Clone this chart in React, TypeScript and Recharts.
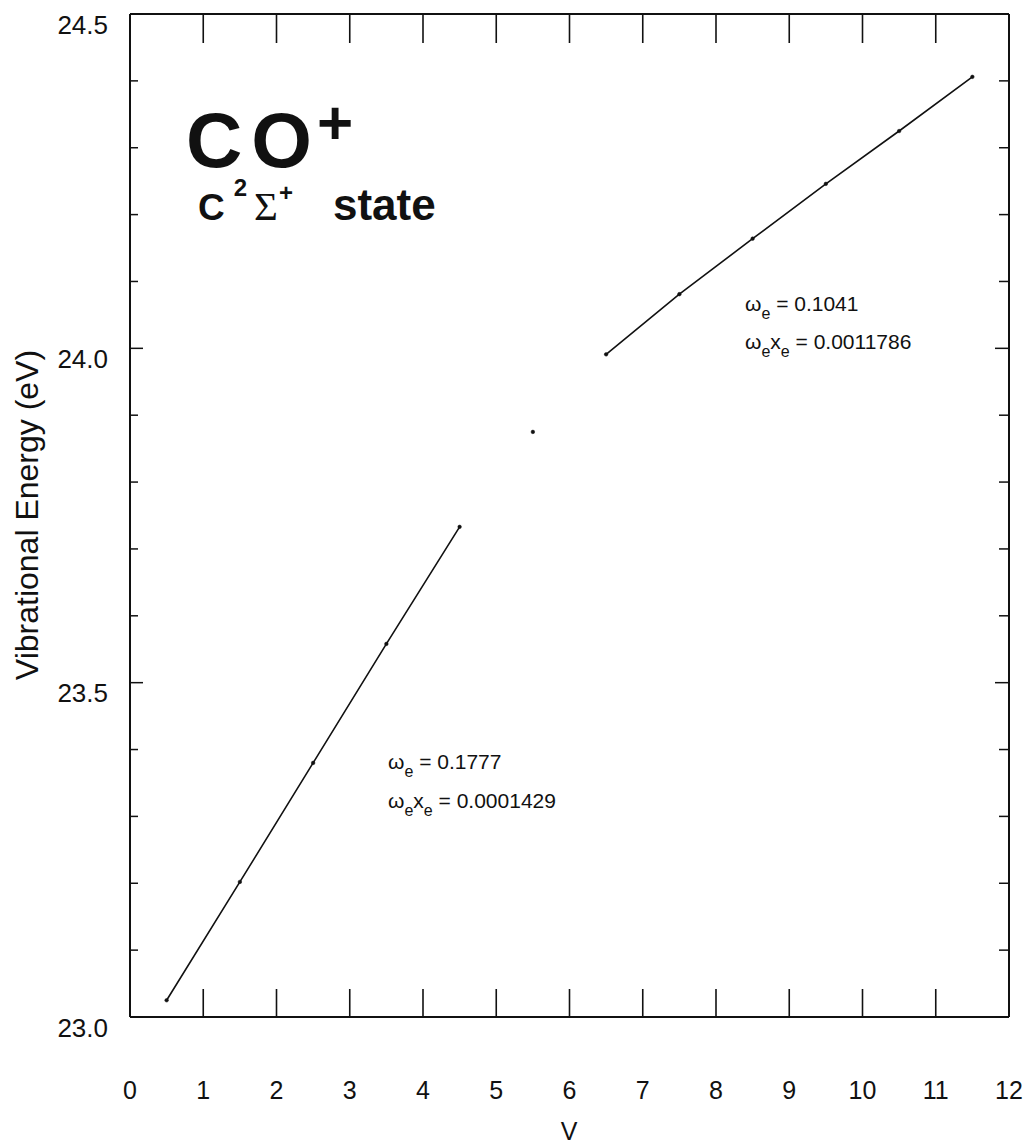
import React from "react";
import { ComposedChart, Line, XAxis, YAxis } from "recharts";

// v = 0.5 ... 4.5 (lower fit), a lone point at 5.5, and v = 6.5 ... 11.5 (upper fit)
const V_LOW = [0.5, 1.5, 2.5, 3.5, 4.5];
const E_LOW = [23.025, 23.202, 23.38, 23.558, 23.733];
const V_MID = [5.5];
const E_MID = [23.875];
const V_HIGH = [6.5, 7.5, 8.5, 9.5, 10.5, 11.5];
const E_HIGH = [23.991, 24.081, 24.164, 24.246, 24.325, 24.406];

const X_TICKS = [0, 1, 2, 3, 4, 5, 6, 7, 8, 9, 10, 11, 12];
const Y_TICKS = [
  23.0, 23.1, 23.2, 23.3, 23.4, 23.5, 23.6, 23.7,
  23.8, 23.9, 24.0, 24.1, 24.2, 24.3, 24.4, 24.5,
];
const Y_LABELS = ["23.0", "23.5", "24.0", "24.5"];

const lowData = V_LOW.map((v, i) => ({ v, e: E_LOW[i] }));
const midData = V_MID.map((v, i) => ({ v, e: E_MID[i] }));
const highData = V_HIGH.map((v, i) => ({ v, e: E_HIGH[i] }));

const FONT = '"Liberation Sans", Arial, Helvetica, sans-serif';
const SERIF = '"Liberation Serif", "Times New Roman", serif';
const INK = "#111";

function isMajor(value: number): boolean {
  return Math.abs(value * 2 - Math.round(value * 2)) < 1e-6;
}

function isInner(value: number): boolean {
  return value > 0 && value < 12;
}

function BottomTick({ x = 0, y = 0, payload }: any) {
  const v = Number(payload?.value);
  return (
    <g>
      {isInner(v) ? <line x1={x} y1={y} x2={x} y2={y - 28} stroke={INK} strokeWidth={1.6} /> : null}
      <text x={x} y={y + 82} textAnchor="middle" fontSize={25} fontFamily={FONT} fill={INK}>
        {v}
      </text>
    </g>
  );
}

function TopTick({ x = 0, y = 0, payload }: any) {
  const v = Number(payload?.value);
  if (!isInner(v)) return <g />;
  return <line x1={x} y1={y} x2={x} y2={y + 29} stroke={INK} strokeWidth={1.6} />;
}

function LeftTick({ x = 0, y = 0, payload }: any) {
  const v = Number(payload?.value);
  const major = isMajor(v);
  const label = Y_LABELS.find((l) => Math.abs(Number(l) - v) < 1e-6);
  return (
    <g>
      <line x1={x} y1={y} x2={x + (major ? 13 : 8)} y2={y} stroke={INK} strokeWidth={1.5} />
      {label ? (
        <text x={x - 22} y={y + 19.5} textAnchor="end" fontSize={26} fontFamily={FONT} fill={INK}>
          {label}
        </text>
      ) : null}
    </g>
  );
}

function RightTick({ x = 0, y = 0, payload }: any) {
  const v = Number(payload?.value);
  const major = isMajor(v);
  return <line x1={x} y1={y} x2={x - (major ? 14 : 10)} y2={y} stroke={INK} strokeWidth={1.5} />;
}

const dot = { r: 1.8, fill: INK, stroke: INK, strokeWidth: 0.5 };

export default function App() {
  const axisLine = { stroke: INK, strokeWidth: 2 };
  return (
    <div style={{ position: "absolute", left: 0, top: 0, width: 1024, height: 1144, background: "#fff" }}>
      <ComposedChart width={1024} height={1144} margin={{ top: 4, right: 5, bottom: 0, left: 0 }}>
        <XAxis
          xAxisId="bottom"
          dataKey="v"
          type="number"
          domain={[0, 12]}
          ticks={X_TICKS}
          interval={0}
          height={127}
          axisLine={axisLine}
          tickLine={false}
          tickSize={0}
          tickMargin={0}
          tick={<BottomTick />}
          allowDataOverflow
        />
        <XAxis
          xAxisId="top"
          dataKey="v"
          type="number"
          orientation="top"
          domain={[0, 12]}
          ticks={X_TICKS}
          interval={0}
          height={10}
          axisLine={axisLine}
          tickLine={false}
          tickSize={0}
          tickMargin={0}
          tick={<TopTick />}
          allowDataOverflow
        />
        <YAxis
          yAxisId="left"
          type="number"
          domain={[23, 24.5]}
          ticks={Y_TICKS}
          interval={0}
          width={130}
          axisLine={axisLine}
          tickLine={false}
          tickSize={0}
          tickMargin={0}
          tick={<LeftTick />}
          allowDataOverflow
        />
        <YAxis
          yAxisId="right"
          orientation="right"
          type="number"
          domain={[23, 24.5]}
          ticks={Y_TICKS}
          interval={0}
          width={10}
          axisLine={axisLine}
          tickLine={false}
          tickSize={0}
          tickMargin={0}
          tick={<RightTick />}
          allowDataOverflow
        />
        <Line
          xAxisId="bottom"
          yAxisId="left"
          data={lowData}
          dataKey="e"
          type="linear"
          stroke={INK}
          strokeWidth={1.6}
          dot={dot}
          activeDot={false}
          isAnimationActive={false}
        />
        <Line
          xAxisId="bottom"
          yAxisId="left"
          data={midData}
          dataKey="e"
          type="linear"
          stroke={INK}
          strokeWidth={1.6}
          dot={dot}
          activeDot={false}
          isAnimationActive={false}
        />
        <Line
          xAxisId="bottom"
          yAxisId="left"
          data={highData}
          dataKey="e"
          type="linear"
          stroke={INK}
          strokeWidth={1.6}
          dot={dot}
          activeDot={false}
          isAnimationActive={false}
        />
        {/* keeps the top / right frame axes attached to a series */}
        <Line
          xAxisId="top"
          yAxisId="right"
          data={highData}
          dataKey="e"
          stroke="none"
          dot={false}
          activeDot={false}
          isAnimationActive={false}
        />
      </ComposedChart>

      {/* labels and annotations drawn over the chart */}
      <svg
        width={1024}
        height={1144}
        style={{ position: "absolute", left: 0, top: 0, pointerEvents: "none" }}
        fontFamily={FONT}
        fill={INK}
      >
        <text transform="translate(38,515) rotate(-90)" textAnchor="middle" fontSize={32}>
          Vibrational Energy (eV)
        </text>
        <text x={569} y={1140} textAnchor="middle" fontSize={25}>
          V
        </text>

        <text x={186} y={167} fontSize={78} fontWeight="bold">
          <tspan letterSpacing={9}>CO</tspan>
          <tspan dx={-4} dy={-23} fontSize={62}>+</tspan>
        </text>
        <text x={198} y={220} fontSize={37} fontWeight="bold">
          C
          <tspan dx={9} dy={-24} fontSize={24}>2</tspan>
          <tspan dx={7} dy={24} fontSize={41} fontWeight="normal" fontFamily={SERIF}>Σ</tspan>
          <tspan dx={1} dy={-19} fontSize={24}>+</tspan>
          <tspan dx={40} dy={19} fontSize={44}>state</tspan>
        </text>

        <text x={745} y={311} fontSize={21}>
          ω<tspan dy={8} fontSize={16}>e</tspan>
          <tspan dy={-8}> = 0.1041</tspan>
        </text>
        <text x={745} y={349} fontSize={21}>
          ω<tspan dy={8} fontSize={16}>e</tspan>
          <tspan dy={-8}>x</tspan>
          <tspan dy={8} fontSize={16}>e</tspan>
          <tspan dy={-8}> = 0.0011786</tspan>
        </text>

        <text x={388} y={769} fontSize={21}>
          ω<tspan dy={8} fontSize={16}>e</tspan>
          <tspan dy={-8}> = 0.1777</tspan>
        </text>
        <text x={388} y={808} fontSize={21}>
          ω<tspan dy={8} fontSize={16}>e</tspan>
          <tspan dy={-8}>x</tspan>
          <tspan dy={8} fontSize={16}>e</tspan>
          <tspan dy={-8}> = 0.0001429</tspan>
        </text>
      </svg>
    </div>
  );
}
